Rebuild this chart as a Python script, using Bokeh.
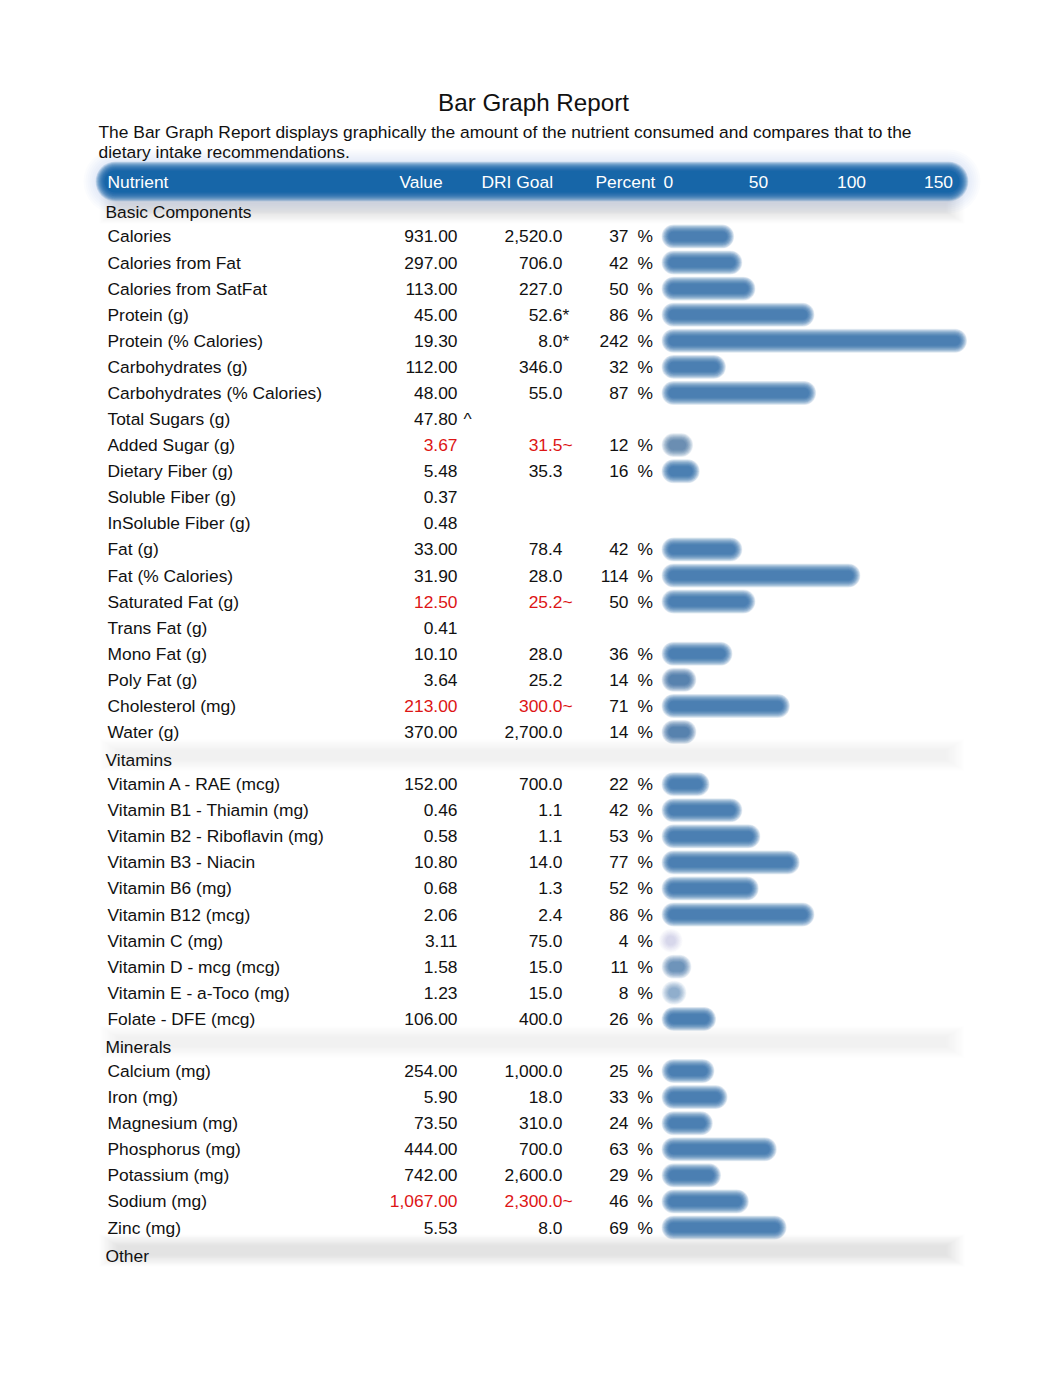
import math
import numpy as np
from bokeh.plotting import figure
from bokeh.models import Range1d, ColumnDataSource
from bokeh.embed import file_html
from bokeh.resources import INLINE
from bokeh.core.properties import value

nan = float("nan")

# ---------------- data ----------------
title = "Bar Graph Report"
description = ["The Bar Graph Report displays graphically the amount of the nutrient consumed and compares that to the",
               "dietary intake recommendations."]
header_labels = ["Nutrient", "Value", "DRI Goal", "Percent"]
scale_ticks = [0, 50, 100, 150]

sections = ["Basic Components", "Vitamins", "Minerals", "Other"]

basic_nutrients = ["Calories", "Calories from Fat", "Calories from SatFat", "Protein (g)",
                   "Protein (% Calories)", "Carbohydrates (g)", "Carbohydrates (% Calories)",
                   "Total Sugars (g)", "Added Sugar (g)", "Dietary Fiber (g)", "Soluble Fiber (g)",
                   "InSoluble Fiber (g)", "Fat (g)", "Fat (% Calories)", "Saturated Fat (g)",
                   "Trans Fat (g)", "Mono Fat (g)", "Poly Fat (g)", "Cholesterol (mg)", "Water (g)"]
basic_values = [931.00, 297.00, 113.00, 45.00, 19.30, 112.00, 48.00, 47.80, 3.67, 5.48, 0.37,
                0.48, 33.00, 31.90, 12.50, 0.41, 10.10, 3.64, 213.00, 370.00]
basic_goals = [2520.0, 706.0, 227.0, 52.6, 8.0, 346.0, 55.0, nan, 31.5, 35.3, nan, nan, 78.4,
               28.0, 25.2, nan, 28.0, 25.2, 300.0, 2700.0]
basic_percent = [37, 42, 50, 86, 242, 32, 87, nan, 12, 16, nan, nan, 42, 114, 50, nan, 36, 14, 71, 14]
basic_value_marks = ["", "", "", "", "", "", "", "^", "", "", "", "", "", "", "", "", "", "", "", ""]
basic_goal_marks = ["", "", "", "*", "*", "", "", "", "~", "", "", "", "", "", "~", "", "", "", "~", ""]

vitamin_nutrients = ["Vitamin A - RAE (mcg)", "Vitamin B1 - Thiamin (mg)", "Vitamin B2 - Riboflavin (mg)",
                     "Vitamin B3 - Niacin", "Vitamin B6 (mg)", "Vitamin B12 (mcg)", "Vitamin C (mg)",
                     "Vitamin D - mcg (mcg)", "Vitamin E - a-Toco (mg)", "Folate - DFE (mcg)"]
vitamin_values = [152.00, 0.46, 0.58, 10.80, 0.68, 2.06, 3.11, 1.58, 1.23, 106.00]
vitamin_goals = [700.0, 1.1, 1.1, 14.0, 1.3, 2.4, 75.0, 15.0, 15.0, 400.0]
vitamin_percent = [22, 42, 53, 77, 52, 86, 4, 11, 8, 26]
vitamin_value_marks = [""] * 10
vitamin_goal_marks = [""] * 10

mineral_nutrients = ["Calcium (mg)", "Iron (mg)", "Magnesium (mg)", "Phosphorus (mg)",
                     "Potassium (mg)", "Sodium (mg)", "Zinc (mg)"]
mineral_values = [254.00, 5.90, 73.50, 444.00, 742.00, 1067.00, 5.53]
mineral_goals = [1000.0, 18.0, 310.0, 700.0, 2600.0, 2300.0, 8.0]
mineral_percent = [25, 33, 24, 63, 29, 46, 69]
mineral_value_marks = [""] * 7
mineral_goal_marks = ["", "", "", "", "", "~", ""]

other_nutrients, other_values, other_goals, other_percent = [], [], [], []
other_value_marks, other_goal_marks = [], []

# ---------------- layout constants ----------------
W, H = 1046, 1361
ROW0, STEP = 209.9, 26.08          # page y of row 0, row pitch
ZERO_PX, PX_PER_PCT = 667.0, 1.64  # bar scale
BAR_CAP = 179.0                    # bars are clipped at the chart edge
FONT = value("Liberation Sans")
FS = "17.4px"
RED = "#dd1515"
TXT = "#111111"

p = figure(width=W, height=H, x_range=Range1d(0, W), y_range=Range1d(H, 0),
           output_backend="svg", toolbar_location=None, x_axis_type=None, y_axis_type=None,
           min_border=0, outline_line_color=None, background_fill_color="white",
           border_fill_color="white")
p.grid.visible = False
p.extra_y_ranges = {"row": Range1d(start=(H - ROW0) / STEP, end=(0 - ROW0) / STEP)}
p.extra_x_ranges = {"pct": Range1d(start=(0 - ZERO_PX) / PX_PER_PCT, end=(W - ZERO_PX) / PX_PER_PCT)}

# ---------------- assemble rows ----------------
groups = [
    (basic_nutrients, basic_values, basic_goals, basic_percent, basic_value_marks, basic_goal_marks),
    (vitamin_nutrients, vitamin_values, vitamin_goals, vitamin_percent, vitamin_value_marks, vitamin_goal_marks),
    (mineral_nutrients, mineral_values, mineral_goals, mineral_percent, mineral_value_marks, mineral_goal_marks),
    (other_nutrients, other_values, other_goals, other_percent, other_value_marks, other_goal_marks),
]

sec_rows, sec_names = [], []
it = dict(row=[], name=[], val=[], goal=[], vmark=[], gmark=[], pct=[], color=[])
idx = 0
for sec, (names, vals, goals, pcts, vmarks, gmarks) in zip(sections, groups):
    sec_rows.append(idx)
    sec_names.append(sec)
    idx += 1
    for n, v, g, pc, vm, gm in zip(names, vals, goals, pcts, vmarks, gmarks):
        it["row"].append(idx)
        it["name"].append(n)
        it["val"].append(f"{v:,.2f}")
        it["goal"].append("" if math.isnan(g) else f"{g:,.1f}")
        it["vmark"].append(vm)
        it["gmark"].append(gm)
        it["pct"].append(pc)
        it["color"].append(RED if gm == "~" else TXT)
        idx += 1

# ---------------- section bands (soft grey shadows) ----------------
band_strength = {"Basic Components": 1.5, "Vitamins": 0.9, "Minerals": 0.9, "Other": 1.6}
for s_row, s_name in zip(sec_rows, sec_names):
    k = band_strength[s_name]
    for t in np.linspace(0, 1, 14):
        inset = 2 + 18 * t
        hpx = 32 - 22 * t
        p.hbar(y=[s_row - 0.12], height=hpx / STEP, left=97 + inset, right=966 - inset,
               y_range_name="row", color="#808080", alpha=0.013 * k, line_color=None)

# ---------------- header bar ----------------
hy = 181
for w in np.linspace(64, 44, 6):
    p.segment(x0=[115], y0=[hy], x1=[948], y1=[hy], line_width=float(w), line_cap="round",
              line_color="#4a8ccc", line_alpha=0.025)
for w in np.linspace(40, 24, 17):
    p.segment(x0=[115], y0=[hy], x1=[948], y1=[hy], line_width=float(w), line_cap="round",
              line_color="#0c5fa3", line_alpha=0.11)
p.segment(x0=[115], y0=[hy], x1=[948], y1=[hy], line_width=22, line_cap="round",
          line_color="#0d62a6", line_alpha=0.55)

p.text(x=[107, 399, 481, 595], y=[hy] * 4, text=header_labels, text_color="white",
       text_font=FONT, text_font_size=FS, text_baseline="middle", text_align="left")
tick_x = [663, 758, 851, 938]
p.text(x=tick_x, y=[hy] * 4, text=[str(t) for t in scale_ticks], text_color="white",
       text_font=FONT, text_font_size=FS, text_baseline="middle",
       text_align=["left", "center", "center", "center"])

# ---------------- title and description ----------------
p.text(x=[533], y=[102], text=[title], text_color=TXT, text_font=FONT, text_font_size="24.2px",
       text_baseline="middle", text_align="center")
p.text(x=[98, 98], y=[131, 151], text=description, text_color=TXT, text_font=FONT,
       text_font_size=FS, text_baseline="middle", text_align="left")

# ---------------- rows text ----------------
src = ColumnDataSource(it)
common = dict(source=src, y_range_name="row", text_font=FONT, text_font_size=FS,
              text_baseline="middle")
p.text(x=107, y="row", text="name", text_color=TXT, text_align="left", **common)
p.text(x=457, y="row", text="val", text_color={"field": "color"}, text_align="right", **common)
p.text(x=463, y="row", text="vmark", text_color=TXT, text_align="left", **common)
p.text(x=562, y="row", text="goal", text_color={"field": "color"}, text_align="right", **common)
p.text(x=562, y="row", text="gmark", text_color={"field": "color"}, text_align="left", **common)

pct_arr = np.array(it["pct"], dtype=float)
has = ~np.isnan(pct_arr)
rows_arr = np.array(it["row"], dtype=float)
psrc = ColumnDataSource(dict(row=rows_arr[has], pct=[f"{int(v)}" for v in pct_arr[has]],
                             sign=["%"] * int(has.sum())))
p.text(x=628, y="row", text="pct", source=psrc, y_range_name="row", text_color=TXT,
       text_font=FONT, text_font_size=FS, text_baseline="middle", text_align="right")
p.text(x=637, y="row", text="sign", source=psrc, y_range_name="row", text_color=TXT,
       text_font=FONT, text_font_size=FS, text_baseline="middle", text_align="left")

p.text(x=105, y=np.array(sec_rows) + 0.08, text=sec_names, y_range_name="row", text_color=TXT,
       text_font=FONT, text_font_size=FS, text_baseline="middle", text_align="left")

# ---------------- bars (soft / blurred look: stacked translucent capsules) ----------------
bar_len = np.minimum(pct_arr[has], BAR_CAP)
len_px = bar_len * PX_PER_PCT
fade = np.clip((len_px - 4.0) / 22.0, 0.15, 1.0)   # very short blurred bars look fainter
inset = 6.0 / PX_PER_PCT
x0 = np.full(bar_len.shape, inset)
x1 = bar_len - inset
mid = bar_len / 2
short = x1 < x0
x0 = np.where(short, mid, x0)
x1 = np.where(short, mid, x1)
for w in np.linspace(24, 9, 20):
    bsrc = ColumnDataSource(dict(row=rows_arr[has], x0=x0, x1=x1, a=0.08 * fade))
    p.segment(x0="x0", y0="row", x1="x1", y1="row", source=bsrc, x_range_name="pct",
              y_range_name="row", line_width=float(w), line_cap="round",
              line_color="#2c66a0", line_alpha="a")

open("out.html", "w").write(file_html(p, INLINE))
